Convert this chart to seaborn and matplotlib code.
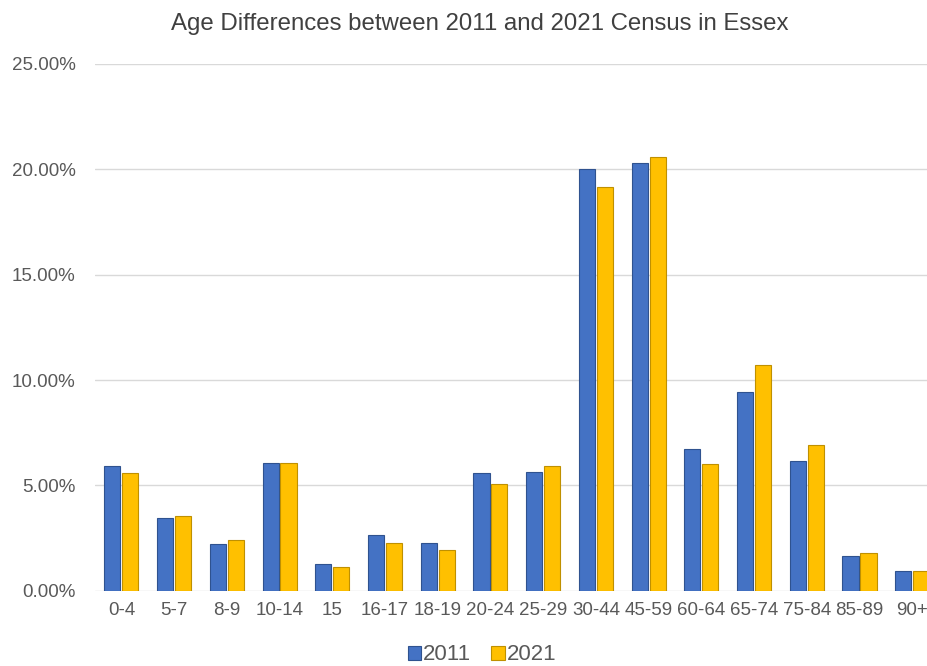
import matplotlib
matplotlib.use("Agg")
import matplotlib.pyplot as plt
import matplotlib.ticker as mtick
import seaborn as sns
import pandas as pd

age_groups = ['0-4', '5-7', '8-9', '10-14', '15', '16-17', '18-19', '20-24', '25-29',
              '30-44', '45-59', '60-64', '65-74', '75-84', '85-89', '90+']
pct_2011 = [5.92, 3.43, 2.22, 6.08, 1.28, 2.64, 2.28, 5.57, 5.65,
            20.02, 20.32, 6.71, 9.43, 6.15, 1.65, 0.92]
pct_2021 = [5.57, 3.56, 2.42, 6.08, 1.12, 2.28, 1.91, 5.07, 5.92,
            19.16, 20.60, 6.00, 10.71, 6.93, 1.77, 0.92]
years = ['2011', '2021']

df = pd.DataFrame({
    'age': age_groups * 2,
    'pct': pct_2011 + pct_2021,
    'year': [years[0]] * len(age_groups) + [years[1]] * len(age_groups),
})

sns.set_style("white")
plt.rcParams['font.family'] = ['Liberation Sans', 'DejaVu Sans']
grey = '#595959'
fills = ['#4472C4', '#FFC000']
edges = ['#2F528F', '#BF9000']

fig = plt.figure(figsize=(9.27, 6.66), dpi=100)
ax = fig.add_axes([0.1025, 0.113, 0.910, 0.791])

sns.barplot(data=df, x='age', y='pct', hue='year', order=age_groups,
            palette=fills, saturation=1, width=0.68, gap=0.1,
            linewidth=0.8, ax=ax, zorder=3)
for cont, ec in zip(ax.containers, edges):
    for bar in cont:
        bar.set_edgecolor(ec)

ax.set_ylim(0, 25)
ax.set_xlim(-0.5, len(age_groups) - 0.5)
ax.yaxis.set_major_locator(mtick.MultipleLocator(5))
ax.yaxis.set_major_formatter(mtick.FuncFormatter(lambda v, p: f'{v:.2f}%'))
ax.grid(axis='y', color='#d9d9d9', linewidth=1, zorder=0)
ax.set_axisbelow(True)
for s in ax.spines.values():
    s.set_visible(False)
ax.set_xlabel('')
ax.set_ylabel('')
ax.tick_params(axis='both', length=0, labelsize=13.5, labelcolor=grey)
ax.tick_params(axis='x', pad=8)
ax.tick_params(axis='y', pad=14)

ax.get_legend().remove()
handles, labels = ax.get_legend_handles_labels()
for h, ec in zip(handles, edges):
    h.set_edgecolor(ec)
fig.legend(handles, labels, loc='center', bbox_to_anchor=(482 / 927, 1 - 655 / 666),
           ncol=2, frameon=False, fontsize=16, handlelength=0.6, handleheight=0.6,
           handletextpad=0.1, columnspacing=0.9, labelcolor=grey)

fig.text(480 / 927, 1 - 24 / 666, 'Age Differences between 2011 and 2021 Census in Essex',
         ha='center', va='center', fontsize=17.3, color='#404040')

fig.savefig('out.png', dpi=100)
